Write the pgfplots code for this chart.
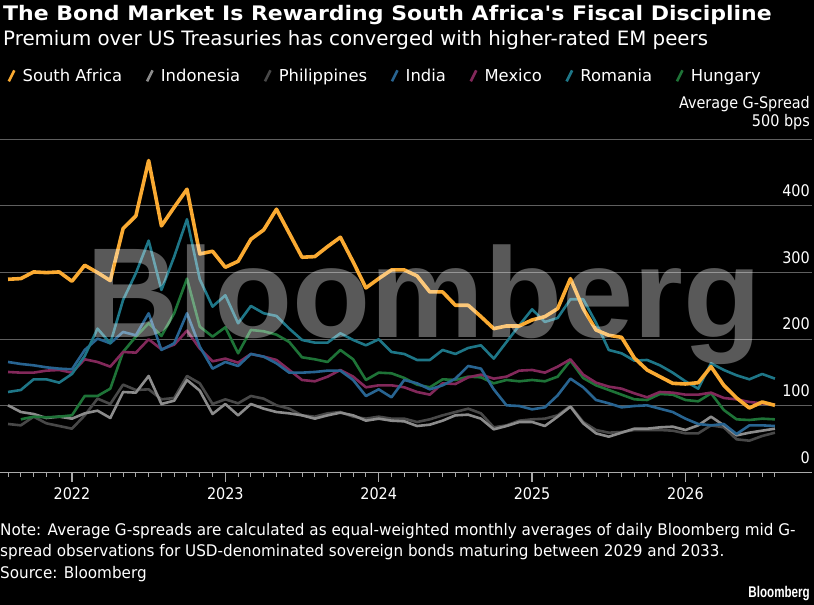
\documentclass[border=0pt]{standalone}
\usepackage{fontspec}
\setmainfont{DejaVu Sans}[FakeStretch=0.9]
\newfontfamily\titlefont{DejaVu Sans}[FakeStretch=1.1]
\newfontfamily\subfont{DejaVu Sans}[FakeStretch=1.0]
\newfontfamily\notefont{DejaVu Sans}[FakeStretch=0.95]
\newfontfamily\legfont{DejaVu Sans}[FakeStretch=1.0]
\newfontfamily\wmfont{Liberation Sans}
\newfontfamily\logofont{Liberation Sans}[FakeStretch=0.75]
\usepackage{pgfplots}
\pgfplotsset{compat=1.18}
\usepackage{pgfplotstable}
\definecolor{sacol}{RGB}{250,170,50}
\definecolor{idocol}{RGB}{140,140,140}
\definecolor{phlcol}{RGB}{72,72,72}
\definecolor{indcol}{RGB}{40,100,145}
\definecolor{mexcol}{RGB}{130,40,90}
\definecolor{roucol}{RGB}{30,118,135}
\definecolor{huncol}{RGB}{30,115,55}
\definecolor{gridcol}{RGB}{95,95,95}
\definecolor{axcol}{RGB}{170,170,170}
\pgfplotstableread{
x sa ido phl ind mex rou hun
0 290 101 73 166 151 121 nan
1 291 91 71 163 150 124 80
2 301 88 84 161 150 140 84
3 300 82 74 158 153 140 83
4 301 84 70 156 154 135 84
5 287 81 66 155 150 148 86
6 311 89 86 184 170 175 115
7 300 93 111 201 166 216 115
8 288 82 103 194 159 194 126
9 366 121 132 211 181 259 181
10 385 120 124 206 180 299 204
11 468 145 125 239 200 348 224
12 370 103 110 184 185 274 205
13 398 108 112 194 192 324 239
14 425 139 145 239 213 380 291
15 328 123 134 189 186 290 219
16 332 88 103 156 167 249 204
17 308 103 110 166 171 266 218
18 317 86 104 160 165 224 179
19 350 103 115 178 178 250 214
20 364 96 111 174 174 239 212
21 395 91 101 164 169 235 207
22 359 89 96 150 154 216 196
23 323 86 86 150 139 199 173
24 324 81 84 151 137 195 170
25 339 86 89 153 144 195 166
26 353 90 91 153 154 209 184
27 316 86 84 139 144 199 170
28 277 78 81 115 128 191 139
29 291 81 84 125 131 200 150
30 304 78 81 113 131 181 149
31 304 77 81 139 128 178 142
32 295 70 76 134 121 169 132
33 271 72 80 125 117 169 128
34 271 78 86 131 134 184 140
35 251 86 91 141 133 178 139
36 251 87 96 160 143 187 144
37 234 81 89 156 147 191 143
38 216 65 68 125 141 171 134
39 220 70 71 101 144 196 139
40 220 76 78 100 153 221 137
41 229 76 80 95 154 245 139
42 234 70 81 98 150 226 137
43 246 84 86 116 159 232 144
44 291 99 100 141 170 260 168
45 246 74 76 128 147 260 142
46 214 59 64 109 135 225 131
47 206 54 60 104 129 184 124
48 203 60 61 98 126 179 117
49 172 66 64 100 119 168 110
50 154 66 64 101 113 169 109
51 144 68 64 96 121 161 118
52 134 69 63 91 120 150 117
53 133 64 59 81 117 137 109
54 135 71 59 73 117 126 107
55 159 84 71 71 120 164 119
56 131 71 68 73 112 154 94
57 112 56 50 58 110 146 80
58 97 60 48 71 106 140 79
59 106 63 55 71 104 148 81
60 101 66 60 70 102 141 80
}\data
\begin{document}
\begin{tikzpicture}[x=1pt,y=1pt]
\fill[black] (0,0) rectangle (814,605);
\path[use as bounding box] (0,0) rectangle (814,605);
\node[anchor=base west, inner sep=0, text=white, font=\titlefont\bfseries\fontsize{20}{24}\selectfont] at (3,584) {The Bond Market Is Rewarding South Africa's Fiscal Discipline};
\node[anchor=base west, inner sep=0, text=white, font=\subfont\fontsize{19.8}{23}\selectfont] at (3,559) {Premium over US Treasuries has converged with higher-rated EM peers};
\begin{axis}[
  scale only axis, width=812pt, height=333.5pt,
  at={(0pt,132.3pt)}, anchor=south west,
  xmin=-0.63, xmax=62.9, ymin=0, ymax=500,
  axis x line*=bottom, axis y line*=right,
  x axis line style={draw=axcol, line width=1.5pt},
  y axis line style={draw=none},
  xtick={5,17,29,41,53}, xticklabels={2022,2023,2024,2025,2026},
  minor xtick={0,1,...,60},
  tick align=outside,
  major tick length=9pt, minor tick length=4pt,
  xtick style={draw=axcol, line width=1.2pt},
  minor x tick style={draw=axcol, line width=1pt},
  ytick={0,100,200,300,400,500},
  yticklabels={0,100,200,300,400,{Average G-Spread\\500 bps}},
  ytick style={draw=none},
  ymajorgrids, grid style={draw=gridcol, line width=1pt},
  ticklabel style={text=white, font=\fontsize{16}{18.5}\selectfont},
  yticklabel style={anchor=south east, align=right, xshift=-11pt, yshift=9pt, inner sep=0pt},
  xticklabel style={yshift=-2pt},
  clip=false,
  legend style={at={(0.009,1.19)}, anchor=west, draw=none, fill=none, text=white,
    font=\legfont\fontsize{16.4}{19}\selectfont, inner sep=0pt,
    /tikz/every odd column/.append style={column sep=5pt},
    /tikz/every even column/.append style={column sep=21.5pt}},
  legend columns=-1,
  legend image code/.code={\draw[#1, line width=2.6pt] (0pt,-5.5pt) -- (5.5pt,5.5pt);},
]
\addlegendimage{sacol}\addlegendentry{South Africa}
\addlegendimage{idocol}\addlegendentry{Indonesia}
\addlegendimage{phlcol}\addlegendentry{Philippines}
\addlegendimage{indcol}\addlegendentry{India}
\addlegendimage{mexcol}\addlegendentry{Mexico}
\addlegendimage{roucol}\addlegendentry{Romania}
\addlegendimage{huncol}\addlegendentry{Hungary}
\addplot[phlcol, line width=2.6pt, line join=round, forget plot] table[x=x, y=phl] {\data};
\addplot[idocol, line width=2.6pt, line join=round, forget plot] table[x=x, y=ido] {\data};
\addplot[huncol, line width=2.6pt, line join=round, forget plot] table[x=x, y=hun] {\data};
\addplot[mexcol, line width=2.6pt, line join=round, forget plot] table[x=x, y=mex] {\data};
\addplot[indcol, line width=2.6pt, line join=round, forget plot] table[x=x, y=ind] {\data};
\addplot[roucol, line width=2.6pt, line join=round, forget plot] table[x=x, y=rou] {\data};
\addplot[sacol, line width=3.6pt, line join=round, forget plot] table[x=x, y=sa] {\data};
\end{axis}
\node[anchor=base west, inner sep=0, text=white, opacity=0.35, font=\wmfont\bfseries\fontsize{128}{128}\selectfont] at (86,267) {Bloomberg};
\node[anchor=base west, inner sep=0, text=white, font=\notefont\fontsize{16}{20}\selectfont] at (0,69) {Note: Average G-spreads are calculated as equal-weighted monthly averages of daily Bloomberg mid G-};
\node[anchor=base west, inner sep=0, text=white, font=\notefont\fontsize{16}{20}\selectfont] at (0,48) {spread observations for USD-denominated sovereign bonds maturing between 2029 and 2033.};
\node[anchor=base west, inner sep=0, text=white, font=\notefont\fontsize{16}{20}\selectfont] at (0,26) {Source: Bloomberg};
\node[anchor=base east, inner sep=0, text=white, font=\logofont\bfseries\fontsize{15.5}{18}\selectfont] at (810,7) {Bloomberg};
\end{tikzpicture}
\end{document}
